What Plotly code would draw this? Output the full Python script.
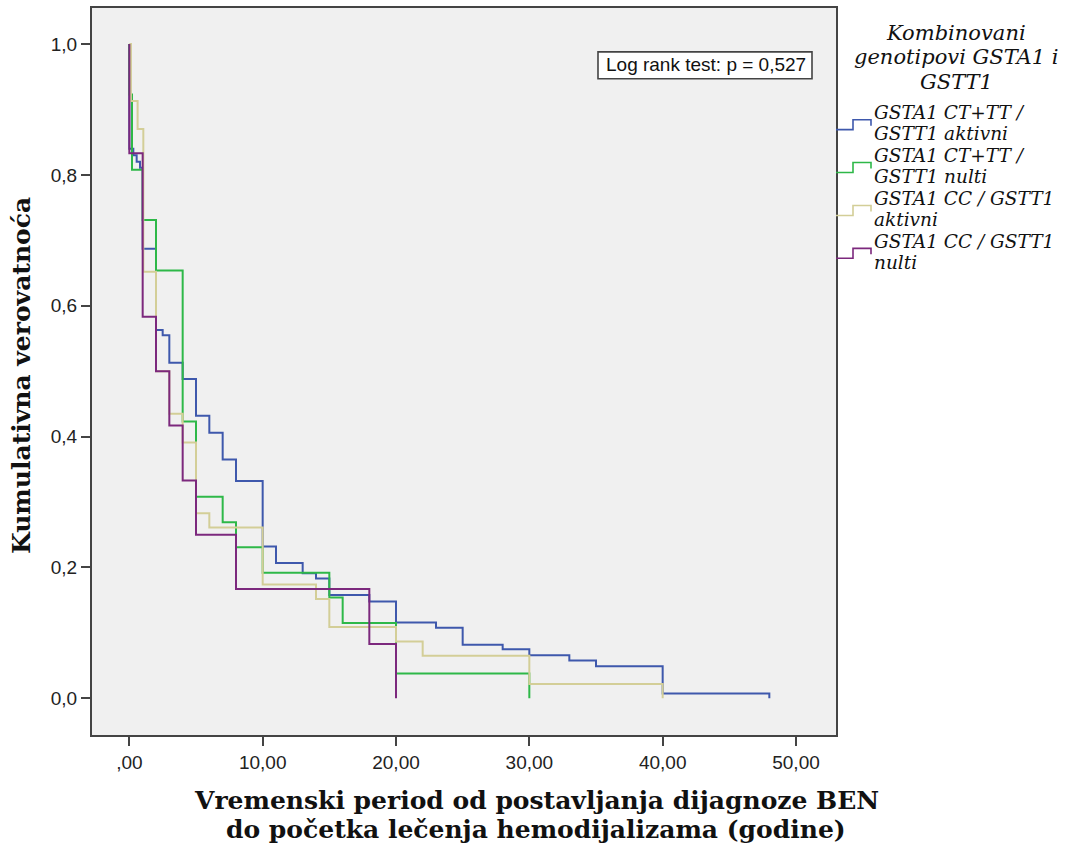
import plotly.graph_objects as go

# ---------------- data ----------------
series_names = [
    "GSTA1 CT+TT / GSTT1 aktivni",
    "GSTA1 CT+TT / GSTT1 nulti",
    "GSTA1 CC / GSTT1 aktivni",
    "GSTA1 CC / GSTT1 nulti",
]

blue_t = [0, 0, 0.3, 0.55, 0.8, 1, 2, 2.5, 3, 4, 5, 6, 7, 8, 10, 11, 13, 14, 15, 18, 20, 23, 25, 28, 30, 33, 35, 40, 48]
blue_s = [1.0, 0.840, 0.830, 0.820, 0.811, 0.687, 0.563, 0.555, 0.513, 0.488, 0.432, 0.406, 0.365, 0.332,
          0.232, 0.207, 0.191, 0.183, 0.158, 0.148, 0.116, 0.108, 0.082, 0.075, 0.066, 0.058, 0.049, 0.0076, 0.0]

green_t = [0, 0, 0.2, 1, 2, 4, 5, 7, 8, 10, 15, 16, 20, 30]
green_s = [1.0, 0.923, 0.808, 0.731, 0.654, 0.423, 0.308, 0.269, 0.231, 0.192, 0.154, 0.115, 0.038, 0.0]

khaki_t = [0, 0.12, 0.62, 1.05, 2, 3, 4, 5, 6, 10, 14, 15, 20, 22, 30, 40]
khaki_s = [1.0, 0.913, 0.870, 0.652, 0.500, 0.435, 0.391, 0.283, 0.261, 0.174, 0.152, 0.109, 0.087, 0.065, 0.022, 0.0]

purple_t = [0, 0, 1, 2, 3, 4, 5, 8, 18, 20]
purple_s = [1.0, 0.833, 0.583, 0.500, 0.417, 0.333, 0.250, 0.167, 0.083, 0.0]

x_tick_vals = [0, 10, 20, 30, 40, 50]
x_tick_text = [",00", "10,00", "20,00", "30,00", "40,00", "50,00"]
y_tick_vals = [0.0, 0.2, 0.4, 0.6, 0.8, 1.0]
y_tick_text = ["0,0", "0,2", "0,4", "0,6", "0,8", "1,0"]

legend_title = ["Kombinovani", "genotipovi GSTA1 i", "GSTT1"]
legend_lines = [
    ["GSTA1 CT+TT /", "GSTT1 aktivni"],
    ["GSTA1 CT+TT /", "GSTT1 nulti"],
    ["GSTA1 CC / GSTT1", "aktivni"],
    ["GSTA1 CC / GSTT1", "nulti"],
]
log_rank_text = "Log rank test: p = 0,527"
x_title = ["Vremenski period od postavljanja dijagnoze BEN", "do početka lečenja hemodijalizama (godine)"]
y_title = "Kumulativna verovatnoća"

colors = ["#3E58AC", "#2EB848", "#D3CE97", "#7C287D"]

# ---------------- layout helpers ----------------
W, H = 1076, 845
L, R, T, B = 92, 836, 6, 735


def px(x):
    return (x - L) / (R - L)


def py(y):
    return (B - y) / (B - T)


fig = go.Figure()
for name, t, s, c in zip(series_names,
                         [blue_t, green_t, khaki_t, purple_t],
                         [blue_s, green_s, khaki_s, purple_s],
                         colors):
    fig.add_trace(go.Scatter(x=t, y=s, mode="lines", name=name,
                             line=dict(color=c, width=2, shape="hv"),
                             showlegend=False, hoverinfo="skip"))

annotations = []
shapes = []


def note(x, y, text, font, xanchor="center", **kw):
    annotations.append(dict(xref="paper", yref="paper", x=px(x), y=py(y), text=text, showarrow=False,
                            xanchor=xanchor, yanchor="middle", borderpad=0, font=font, **kw))


title_font = dict(family="DejaVu Serif", size=21, color="#111", style="italic")
item_font = dict(family="DejaVu Serif", size=18.5, color="#111", style="italic")

# legend title
for yy, txt in zip([31, 55.5, 80], legend_title):
    note(956, yy, txt, title_font)

# legend items
item_centers = [123, 166, 209, 252]
for cy, lines, c in zip(item_centers, legend_lines, colors):
    for j, txt in enumerate(lines):
        yy = cy - 10.75 + 21.5 * j - 1.5
        note(873, yy, txt, item_font, xanchor="left")
    path = "M {} {} L {} {} L {} {} L {} {} L {} {}".format(
        px(836), py(cy + 5), px(853), py(cy + 5), px(853), py(cy - 5), px(871), py(cy - 5), px(871), py(cy + 1))
    shapes.append(dict(type="path", xref="paper", yref="paper", path=path,
                       line=dict(color=c, width=1.6)))

# log rank box
shapes.append(dict(type="rect", xref="paper", yref="paper", x0=px(598), x1=px(812), y0=py(77), y1=py(50),
                   fillcolor="white", line=dict(color="#444", width=1.6), layer="above"))
note(706, 63, log_rank_text, dict(family="Liberation Sans", size=19, color="#111"))

# axis titles
serif_b = dict(family="DejaVu Serif", size=25, color="#111", weight="bold")
note(536, 800.5, x_title[0], serif_b)
note(536, 830, x_title[1], serif_b)
note(22, 375, y_title, serif_b, textangle=-90)

axis_common = dict(showgrid=False, zeroline=False, showline=True, mirror=True, linecolor="#444",
                   linewidth=2, ticks="outside", ticklen=9, tickwidth=2, tickcolor="#444",
                   tickfont=dict(family="Liberation Sans", size=19, color="#222"))

fig.update_layout(
    width=W, height=H, autosize=False,
    margin=dict(l=L, r=W - R, t=T, b=H - B, pad=0),
    paper_bgcolor="white", plot_bgcolor="#F0F0F0",
    xaxis=dict(range=[-2.8, 53.0], tickmode="array", tickvals=x_tick_vals, ticktext=x_tick_text, **axis_common),
    yaxis=dict(range=[-0.056, 1.055], tickmode="array", tickvals=y_tick_vals, ticktext=y_tick_text, **axis_common),
    annotations=annotations, shapes=shapes, showlegend=False,
)

fig.write_html("out.html", config={"displayModeBar": False},
               post_script="document.body.style.margin='0';document.body.style.overflow='hidden';")
